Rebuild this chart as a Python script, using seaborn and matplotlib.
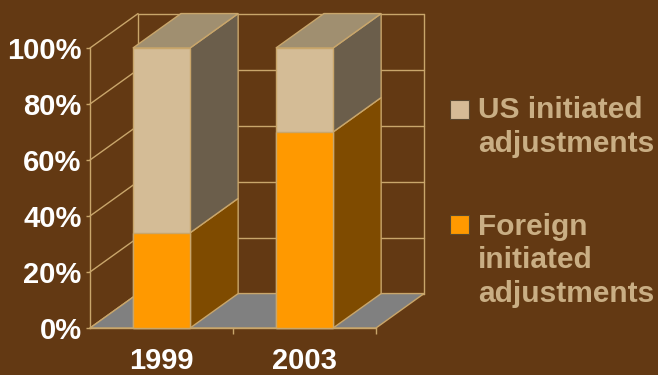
import matplotlib
matplotlib.use("Agg")
import numpy as np
import pandas as pd
import matplotlib.pyplot as plt
import seaborn as sns
from matplotlib.patches import Polygon, Rectangle

# ---------------- data ----------------
categories = ["1999", "2003"]
foreign_pct = [34, 70]
us_pct = [66, 30]
y_ticks = [0, 20, 40, 60, 80, 100]
y_tick_labels = ["0%", "20%", "40%", "60%", "80%", "100%"]
legend_us = ["US initiated", "adjustments"]
legend_foreign = ["Foreign", "initiated", "adjustments"]

# ---------------- style ----------------
BG = "#633913"
EDGE = "#c9a66b"
US_FRONT = "#d4bc96"
US_SIDE = "#6b5e4b"
TOP = "#a08f70"
FOR_FRONT = "#ff9900"
FOR_SIDE = "#7f4b00"
FLOOR = "#808080"
LEG_TXT = "#c9ae84"
FS = 21

sns.set_theme(style="white")
plt.rcParams["font.family"] = ["Liberation Sans", "DejaVu Sans"]
plt.rcParams["font.weight"] = "bold"

W, H = 658, 375
fig = plt.figure(figsize=(W / 100, H / 100), dpi=100, facecolor=BG)
ax = fig.add_axes([90 / W, 47 / H, 286 / W, 280 / H])
ax.set_facecolor(BG)

df = pd.DataFrame({"year": categories, "foreign": foreign_pct, "us": us_pct})
df["total"] = df["foreign"] + df["us"]

BAR_W = 0.4
DX, DY = 0.336, 12.3  # oblique depth offset (category units, value units)

sns.barplot(data=df, x="year", y="total", color=US_FRONT, saturation=1,
            width=BAR_W, edgecolor=EDGE, linewidth=1, ax=ax, zorder=5)
n_total = len(ax.patches)
sns.barplot(data=df, x="year", y="foreign", color=FOR_FRONT, saturation=1,
            width=BAR_W, edgecolor=EDGE, linewidth=1, ax=ax, zorder=6)

ax.set_xlim(-0.5, len(categories) - 0.5)
ax.set_ylim(0, 100)
x_left, x_right = ax.get_xlim()

# ---------------- walls & floor ----------------
for v in y_ticks:
    ax.plot([x_left + DX, x_right + DX], [v + DY, v + DY], color=EDGE, lw=1,
            clip_on=False, zorder=1)
    ax.plot([x_left, x_left + DX], [v, v + DY], color=EDGE, lw=1,
            clip_on=False, zorder=1)
for xx in (x_left + DX, x_right + DX):
    ax.plot([xx, xx], [DY, 100 + DY], color=EDGE, lw=1, clip_on=False, zorder=1)

floor = Polygon([(x_left, 0), (x_right, 0), (x_right + DX, DY), (x_left + DX, DY)],
                closed=True, facecolor=FLOOR, edgecolor=EDGE, lw=1,
                clip_on=False, zorder=2)
ax.add_patch(floor)

# ---------------- 3D faces of bars ----------------
totals = ax.patches[:n_total]
fors = ax.patches[n_total:n_total + len(categories)]


def side(x1, y0, y1, color):
    return Polygon([(x1, y0), (x1 + DX, y0 + DY), (x1 + DX, y1 + DY), (x1, y1)],
                   closed=True, facecolor=color, edgecolor=EDGE, lw=1,
                   clip_on=False, zorder=4)


for pt, pf in zip(totals, fors):
    x0 = pt.get_x()
    x1 = x0 + pt.get_width()
    t = pt.get_height()
    f = pf.get_height()
    ax.add_patch(side(x1, 0, f, FOR_SIDE))
    ax.add_patch(side(x1, f, t, US_SIDE))
    ax.add_patch(Polygon([(x0, t), (x1, t), (x1 + DX, t + DY), (x0 + DX, t + DY)],
                         closed=True, facecolor=TOP, edgecolor=EDGE, lw=1,
                         clip_on=False, zorder=4))
    pt.set_clip_on(False)
    pf.set_clip_on(False)

# ---------------- axes ----------------
for s in ("top", "right"):
    ax.spines[s].set_visible(False)
for s in ("left", "bottom"):
    ax.spines[s].set_color(EDGE)
    ax.spines[s].set_linewidth(1)
    ax.spines[s].set_zorder(3)

ax.set_yticks(y_ticks, y_tick_labels)
ax.tick_params(axis="y", left=True, colors=EDGE, labelcolor="white", length=3,
               width=1, pad=3, labelsize=FS)
ax.set_xticks(range(len(categories)), categories)
ax.set_xticks([i + 0.5 for i in range(len(categories))], minor=True)
ax.tick_params(axis="x", which="major", bottom=True, length=0, pad=14,
               labelcolor="white", labelsize=FS)
ax.tick_params(axis="x", which="minor", bottom=True, length=4, width=1, color=EDGE)
ax.set_xlabel("")
ax.set_ylabel("")

# ---------------- legend ----------------
def fx(px):
    return px / W


def fy(py):
    return 1 - py / H


entries = [
    (US_FRONT, 100, legend_us, [118, 152]),
    (FOR_FRONT, 215, legend_foreign, [235, 268, 302]),
]
for color, sq_top, lines, baselines in entries:
    fig.patches.append(Rectangle((fx(450), fy(sq_top + 19)), 19 / W, 19 / H,
                                 transform=fig.transFigure, facecolor=color,
                                 edgecolor="#5a4a30", lw=0.8))
    for line, b in zip(lines, baselines):
        fig.text(fx(478), fy(b), line, color=LEG_TXT, fontsize=FS + 0.5,
                 fontweight="bold", ha="left", va="baseline")

fig.savefig("out.png", dpi=100, facecolor=BG)
